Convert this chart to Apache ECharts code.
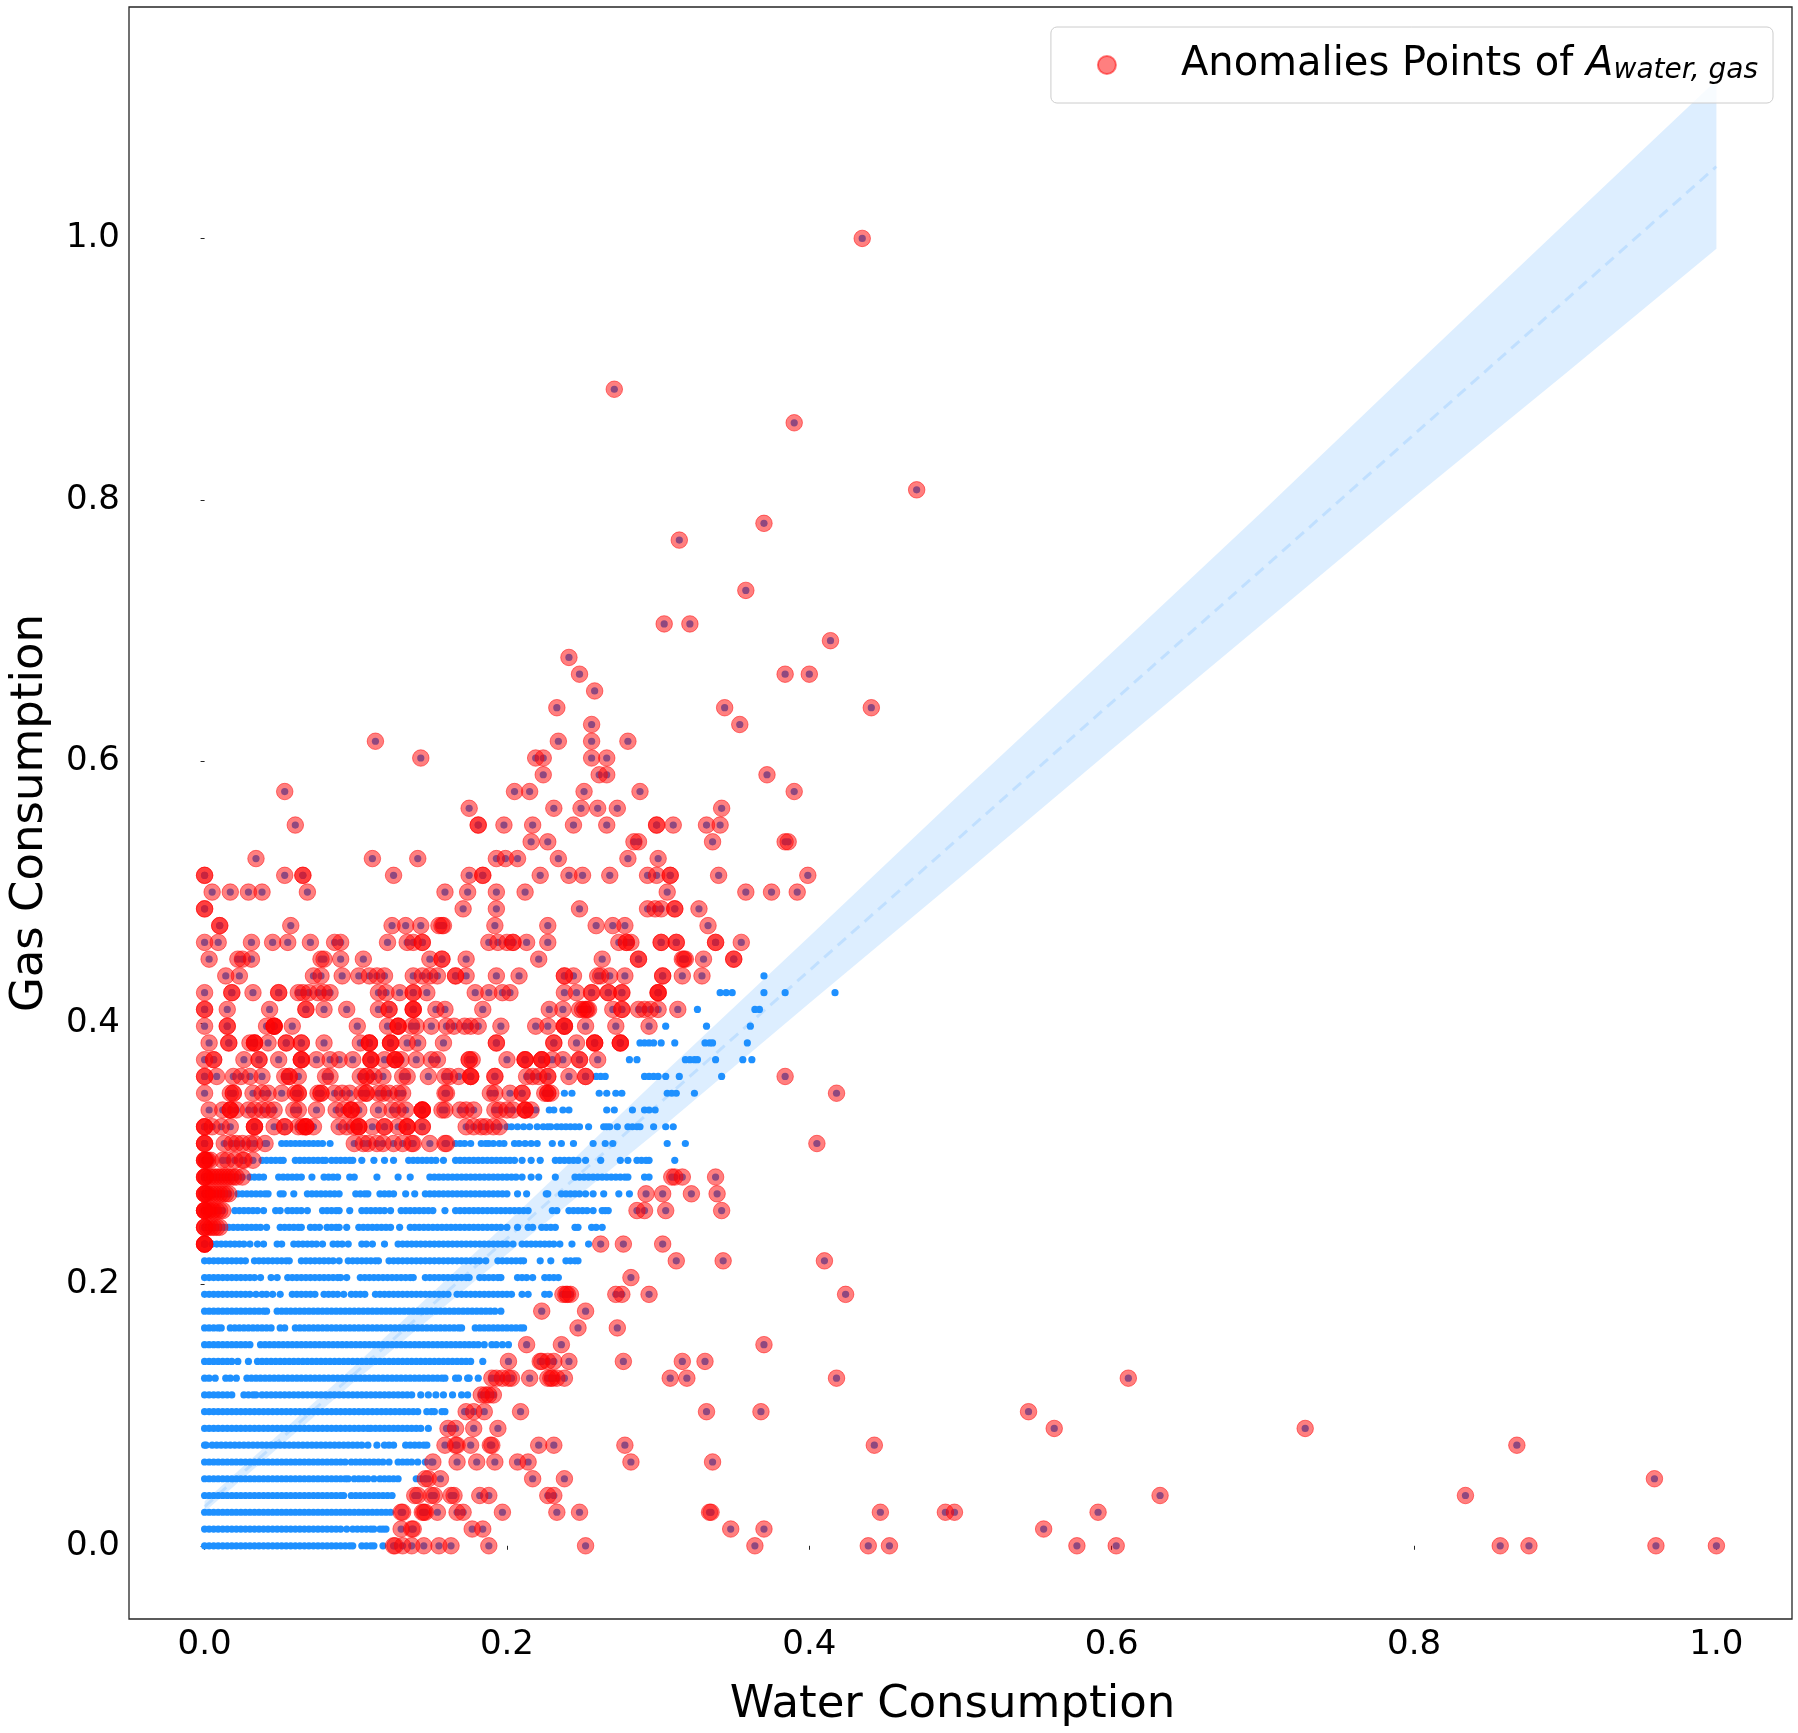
<!DOCTYPE html>
<html>
<head>
<meta charset="utf-8">
<script src="https://cdn.jsdelivr.net/npm/echarts@6/dist/echarts.min.js"></script>
<style>
  html, body { margin: 0; padding: 0; background: #fff; }
  #main { width: 1798px; height: 1733px; }
</style>
</head>
<body>
<div id="main"></div>
<script>
// gas consumption comes in steps of 1/78, so every row below is one step
const gasStep = 1 / 78;
const tickValues = [0, 0.2, 0.4, 0.6, 0.8, 1.0];

// regression line and its band
const bandX = [0, 0.1, 0.2, 0.3, 0.4, 0.5, 0.6, 0.7, 0.8, 0.9, 1.0];
const lineY = [0.03, 0.1325, 0.235, 0.3375, 0.44, 0.5425, 0.645, 0.7475, 0.85, 0.9525, 1.055];
const bandUpper = [0.034, 0.1385, 0.247, 0.3575, 0.466, 0.5755, 0.683, 0.7915, 0.902, 1.0115, 1.121];
const bandLower = [0.026, 0.1265, 0.223, 0.3175, 0.415, 0.5115, 0.609, 0.7055, 0.802, 0.8965, 0.992];

// water consumption (x 1000) of the normal points, one list per gas step
const normalRows = [
  [0,3,6,9,12,15,18,21,24,27,30,33,36,39,42,45,48,51,54,57,60,63,66,69,72,75,78,81,84,87,90,93,96,98,104,107,110,112,118],
  [0,3,6,9,12,15,18,21,24,27,30,33,36,39,42,45,48,51,54,57,60,63,66,69,72,75,78,81,84,87,90,94,98,101,104,107,110,112,116,118,120],
  [0,3,6,9,12,15,18,21,24,27,30,33,36,39,42,45,48,51,54,57,60,63,66,69,72,75,78,81,84,87,90,93,96,99,102,105,108,111,114,117,120,123],
  [0,3,6,9,12,15,18,21,24,27,30,33,36,39,42,45,48,51,54,57,60,63,66,69,72,75,78,81,84,87,90,92,97,100,103,106,109,112,115,118,121,124],
  [0,3,6,9,12,15,18,21,24,27,30,33,36,39,42,45,48,51,54,57,60,63,66,69,72,75,78,81,84,87,90,93,95,99,102,105,108,112,116,119,122,125,128,140,143,146],
  [0,3,6,9,12,15,18,21,24,27,30,33,36,39,42,45,48,51,54,57,60,63,66,69,72,75,78,81,84,87,90,93,97,100,103,106,109,112,115,118,122,128,131,134,137,141,146,150],
  [0,1,5,8,11,14,17,20,23,26,29,32,35,38,41,44,47,50,53,56,59,62,65,68,71,74,77,80,83,86,89,92,95,98,101,104,108,114,119,122,125,133,136,139,142,145,147],
  [0,3,6,9,12,15,18,21,24,27,30,33,36,39,42,45,48,51,54,57,60,63,66,69,72,75,78,81,84,87,90,93,96,99,102,105,108,110,113,116,119,122,125,128,131,134,137,140,143,148,160,163],
  [0,3,6,9,12,15,18,21,24,27,30,33,36,39,42,45,48,51,54,57,60,63,66,69,72,75,78,81,84,87,90,93,96,99,102,105,108,111,114,117,120,123,126,129,132,135,138,141,147,150,152,157,159,172],
  [0,3,6,9,12,15,18,26,29,32,34,38,41,44,47,50,53,56,59,62,65,68,71,74,77,80,83,86,89,92,95,98,101,104,107,110,113,116,119,122,125,128,131,134,137,143,148,153,158,164,170,174],
  [0,3,7,14,17,21,28,31,34,37,40,43,46,49,52,55,58,61,64,67,70,73,76,79,82,85,88,91,94,97,100,103,106,109,112,115,118,121,124,127,130,133,136,139,142,145,148,151,154,157,159,166,168,174,175,181],
  [0,3,6,9,12,15,18,22,29,35,38,41,44,47,50,53,56,59,62,65,68,71,74,77,80,83,86,89,92,95,98,101,104,107,110,113,116,119,122,125,128,131,134,137,140,143,146,149,152,155,158,161,164,167,170,173,176,184],
  [0,3,6,9,12,15,18,21,24,27,30,37,40,43,46,49,52,55,58,61,64,67,70,73,76,79,82,85,88,91,94,97,100,103,106,109,112,115,118,121,124,127,130,133,136,139,142,145,148,151,154,157,160,163,166,169,172,175,178,181,185,190,193,197,201],
  [0,3,6,9,11,17,20,23,26,29,32,35,38,41,44,50,53,60,63,66,69,72,75,78,81,84,87,90,93,96,99,102,105,108,111,114,117,120,123,126,129,132,135,138,141,144,147,150,153,156,159,162,165,168,170,179,182,185,188,191,194,197,200,203,206,209,211],
  [0,3,6,9,12,15,18,21,24,27,30,33,36,39,41,48,51,54,57,60,63,66,69,72,75,78,81,84,87,90,93,96,99,102,105,108,111,114,117,120,123,126,129,132,135,138,141,144,147,150,153,156,159,162,165,168,171,174,177,180,183,186,189,192,196],
  [0,3,6,9,12,15,18,21,24,27,30,34,38,41,45,50,58,61,64,67,70,73,79,82,85,88,92,97,100,103,106,113,116,119,122,125,128,131,134,137,140,143,146,149,152,155,158,161,167,170,173,176,179,182,185,188,191,194,197,200,203,210,214,225,228],
  [0,3,6,9,12,15,18,21,24,27,30,33,37,44,48,55,58,61,64,67,70,73,76,79,82,85,88,90,94,103,106,109,112,115,118,121,124,127,130,133,136,138,146,149,152,155,158,161,164,167,170,173,175,182,185,188,191,194,196,207,210,213,217,225,228,231,234],
  [0,3,6,9,12,15,18,21,24,27,33,36,39,42,45,48,51,54,56,64,67,70,73,76,79,82,85,89,95,98,101,104,107,110,113,115,122,125,128,131,134,137,140,143,146,149,152,155,158,161,164,167,170,173,176,179,182,186,194,197,200,203,206,209,211,222,229,239,242,245,247],
  [5,8,11,14,17,20,23,26,30,35,39,48,51,59,62,65,68,71,74,78,85,88,91,95,104,107,111,119,128,131,134,137,140,143,146,149,152,155,158,161,164,167,170,173,176,179,182,185,188,191,194,197,200,204,210,213,216,219,222,225,228,231,235,243,254],
  [10,13,16,19,22,25,28,31,34,37,41,50,53,56,59,62,64,70,73,76,81,84,87,89,94,102,105,108,111,114,117,120,123,129,136,139,142,145,148,151,154,157,160,163,166,169,172,175,178,181,184,187,190,193,196,200,207,214,217,223,226,229,232,245,247,256,259,263],
  [20,23,26,29,32,35,39,47,50,55,58,61,64,68,78,81,84,87,89,96,104,107,110,113,116,119,123,130,133,136,139,142,145,148,151,159,166,169,172,175,178,181,184,187,190,193,196,199,202,205,208,211,214,230,233,241,244,247,250,253,257,263,265,267],
  [22,25,28,31,34,37,40,42,50,52,59,68,71,74,77,80,83,86,89,100,103,106,108,116,119,122,125,133,139,146,149,152,155,158,161,164,167,170,173,176,179,182,185,188,191,194,197,200,207,213,226,227,236,239,242,245,248,252,257,264,274,281],
  [30,33,36,39,49,52,55,58,61,64,71,79,82,85,88,96,99,114,128,136,149,152,155,158,161,164,167,170,173,176,179,182,185,188,191,194,197,200,203,206,210,216,221,232,245,248,251,254,257,260,263,266,269,272,275,278,280,291,294],
  [38,41,44,47,50,52,60,63,66,69,72,75,78,80,84,87,90,93,96,98,104,112,119,125,135,138,141,144,147,150,153,158,166,169,172,175,178,181,184,187,190,193,196,199,202,205,210,216,222,232,235,238,241,244,247,252,262,275,280,286,289,292,294,311],
  [41,51,54,57,60,63,66,69,72,75,78,83,166,169,172,176,183,186,188,191,195,198,205,208,212,216,220,230,236,244,257,265,270,306,318],
  [200,203,207,211,215,220,224,227,229,233,236,239,242,245,248,254,264,266,268,273,280,283,286,288,297,305,310],
  [215,219,228,231,237,241,266,271,283,291,294,298],
  [238,243,261,266,272,276,306,309,312,324],
  [259,262,265,291,294,297,300,305,314,342],
  [281,286,318,321,324,326,338,356,362],
  [288,291,294,297,302,311,331,334,336,359],
  [305,332,361],
  [326,364,367],
  [341,345,349,370,384,417],
  [370]
];

// water consumption (x 1000) of the anomalies, one list per gas step
const anomalyRows = [
  [125,126,131,137,145,155,163,188,252,364,439,453,577,603,857,876,960,1000],
  [130,137,138,177,184,348,370,555],
  [130,131,144,145,146,154,167,171,197,233,248,334,335,447,490,496,591],
  [139,141,150,152,163,165,182,188,227,231,632,834],
  [146,148,156,217,238,959],
  [151,167,180,192,207,214,282,336],
  [159,166,167,176,189,190,221,231,278,443,868],
  [161,166,178,194,562,728],
  [173,178,185,209,332,368,545],
  [183,186,188,191],
  [190,193,197,201,203,215,227,229,230,233,238,308,319,418,611],
  [201,222,223,227,231,241,277,316,331],
  [213,236,370],
  [247,273],
  [223,252],
  [237,239,240,242,272,276,294,424],
  [282],
  [312,343,410],
  [0,0,0,0,262,277,303],
  [0,0,0,2,4,6,8,10],
  [0,0,0,0,2,3,5,6,8,10,12,286,291,305,342],
  [0,0,0,1,2,4,6,8,10,12,14,16,292,303,322,339],
  [0,0,0,1,3,5,7,9,11,13,15,17,19,21,25,309,311,316,338],
  [0,0,0,1,2,4,12,15,20,25,26,32],
  [0,0,0,13,18,21,25,30,33,40,99,105,108,114,118,125,131,137,138,149,159,160,405],
  [0,0,0,5,11,17,33,33,33,46,53,53,62,65,67,67,67,72,89,94,99,102,102,102,111,119,119,128,134,134,134,144,144,173,178,183,186,191,195],
  [3,12,17,17,17,21,29,33,38,42,46,59,62,74,87,92,97,97,97,102,115,124,128,133,144,144,144,144,157,159,169,173,178,192,195,200,204,212,212,212,216],
  [0,17,19,19,32,38,42,51,60,62,62,75,77,77,86,91,96,104,107,107,115,118,122,128,131,159,160,189,192,202,210,210,225,227,227,229,418],
  [0,0,8,19,24,30,38,53,56,56,62,80,83,103,107,107,112,118,131,134,148,159,162,168,176,176,176,192,192,213,217,221,227,227,241,252,252,384],
  [0,6,6,26,36,36,49,64,64,64,74,83,89,98,110,110,110,119,126,126,126,130,140,150,154,175,175,177,200,212,212,212,223,223,223,230,237,248,248,260],
  [3,16,16,30,33,33,33,42,54,54,64,64,79,103,109,109,109,123,123,123,134,141,158,193,193,231,231,246,258,258,258,275,275,275],
  [0,15,15,41,46,46,46,46,58,101,121,128,128,128,137,140,150,160,165,172,176,181,196,219,227,238,238,238,252,272,294],
  [0,0,15,43,67,67,79,94,115,122,122,138,138,138,153,159,184,228,237,248,250,252,253,254,270,276,276,287,291,295,300,313],
  [0,18,18,32,49,49,62,65,69,75,79,83,115,120,129,138,138,147,179,188,197,202,238,246,256,256,267,267,276,276,300,300,300],
  [14,23,72,77,91,102,109,114,119,138,144,149,154,166,166,173,193,208,238,238,244,260,262,268,278,303,303,316,329],
  [3,22,25,31,77,79,90,105,149,157,157,173,221,263,287,287,316,317,318,330,350,350],
  [0,9,31,45,55,70,86,90,121,134,138,144,144,188,194,200,204,204,213,227,274,279,279,282,302,302,312,312,338,338,355],
  [10,10,57,124,133,143,155,157,158,192,227,259,270,278,333],
  [0,0,171,193,248,293,298,302,311,311,327],
  [5,17,29,38,68,159,174,193,212,306,358,375,392],
  [0,0,53,65,65,125,175,184,184,222,241,250,268,293,299,308,308,340,399],
  [34,111,141,193,199,207,234,280,300],
  [216,227,284,287,336,384,386],
  [60,181,181,198,217,244,266,299,299,310,332,341],
  [175,231,249,260,273,342],
  [53,205,215,251,288,390],
  [224,261,266,372],
  [143,219,224,256,266],
  [113,234,256,280],
  [256,354],
  [233,344,441],
  [258],
  [248,384,400],
  [241],
  [414],
  [304,321],
  [],
  [358],
  [],
  [],
  [314],
  [370],
  [],
  [471],
  [],[],[],
  [390],
  [],
  [271],
  [],[],[],[],[],[],[],[],
  [435]
];

function rowsToPoints(rows) {
  const pts = [];
  rows.forEach((row, k) => row.forEach(x => pts.push([x / 1000, k * gasStep])));
  return pts;
}

const anomalyPoints = rowsToPoints(anomalyRows);
// every anomaly also has its normal blue dot underneath
const normalPoints = rowsToPoints(normalRows).concat(anomalyPoints);

const legendName = 'Anomalies Points of A';

var myChart = echarts.init(document.getElementById('main'));

var option = {
  animation: false,
  textStyle: { fontFamily: 'DejaVu Sans' },
  grid: {
    show: true,
    left: 117,
    right: 6,
    top: 7,
    bottom: 95,
    borderColor: '#262626',
    borderWidth: 1.3,
    containLabel: false,
  },
  legend: {
    show: true,
    right: 25,
    top: 27,
    padding: [18, 15, 18, 46],
    itemWidth: 18,
    itemHeight: 18,
    icon: 'circle',
    backgroundColor: 'rgba(255,255,255,0.8)',
    borderColor: '#cccccc',
    borderWidth: 1,
    borderRadius: 6,
    data: [{ name: legendName, itemStyle: { opacity: 0.5 } }],
    formatter: () => '{a|Anomalies Points of }{b|A}{c|water, gas}',
    textStyle: {
      rich: {
        a: { fontSize: 40, fontFamily: 'DejaVu Sans', color: '#000', padding: [0, 0, 0, 60] },
        b: { fontSize: 40, fontFamily: 'DejaVu Sans', fontStyle: 'italic', color: '#000' },
        c: { fontSize: 28, fontFamily: 'DejaVu Sans', fontStyle: 'italic', color: '#000', verticalAlign: 'bottom' },
      },
    },
  },
  xAxis: {
    type: 'value',
    min: -0.05,
    max: 1.05,
    name: 'Water Consumption',
    nameLocation: 'middle',
    nameGap: 64,
    nameTextStyle: { fontSize: 45, color: '#000', padding: [0, 16, 0, 0] },
    axisLine: { show: false },
    axisTick: { show: true, length: 4, customValues: tickValues, lineStyle: { color: '#262626', width: 1 } },
    axisLabel: { fontSize: 34, color: '#000', margin: 9, customValues: tickValues, formatter: v => v.toFixed(1) },
    splitLine: { show: false },
  },
  yAxis: {
    type: 'value',
    min: -0.056,
    max: 1.177,
    name: 'Gas Consumption',
    nameLocation: 'middle',
    nameGap: 76,
    nameTextStyle: { fontSize: 45, color: '#000' },
    axisLine: { show: false },
    axisTick: { show: true, length: 4, customValues: tickValues, lineStyle: { color: '#262626', width: 1 } },
    axisLabel: { fontSize: 34, color: '#000', margin: 9, customValues: tickValues, formatter: v => v.toFixed(1) },
    splitLine: { show: false },
  },
  series: [
    {
      name: 'band',
      type: 'custom',
      silent: true,
      z: 1,
      data: bandX.map((x, i) => [x, bandUpper[i], bandLower[i]]),
      encode: { x: 0, y: 1 },
      renderItem: function (params, api) {
        if (params.dataIndex !== 0) return null;
        const up = bandX.map((x, i) => api.coord([x, bandUpper[i]]));
        const low = bandX.map((x, i) => api.coord([x, bandLower[i]])).reverse();
        return {
          type: 'polygon',
          shape: { points: up.concat(low) },
          style: { fill: 'rgba(30,144,255,0.15)', stroke: 'none' },
        };
      },
    },
    {
      name: 'fit',
      type: 'line',
      silent: true,
      z: 2,
      showSymbol: false,
      data: bandX.map((x, i) => [x, lineY[i]]),
      lineStyle: { color: 'rgba(30,144,255,0.15)', width: 3, type: [11, 7] },
    },
    {
      name: 'normal',
      type: 'scatter',
      silent: true,
      z: 3,
      progressive: 0,
      symbolSize: 7.2,
      data: normalPoints,
      itemStyle: { color: '#1E90FF', opacity: 1 },
    },
    {
      name: legendName,
      type: 'scatter',
      silent: true,
      z: 4,
      progressive: 0,
      symbolSize: 16.5,
      data: anomalyPoints,
      itemStyle: { color: '#FF0000', opacity: 0.5, borderColor: '#FF0000', borderWidth: 1 },
    },
  ],
};

myChart.setOption(option);
</script>
</body>
</html>
